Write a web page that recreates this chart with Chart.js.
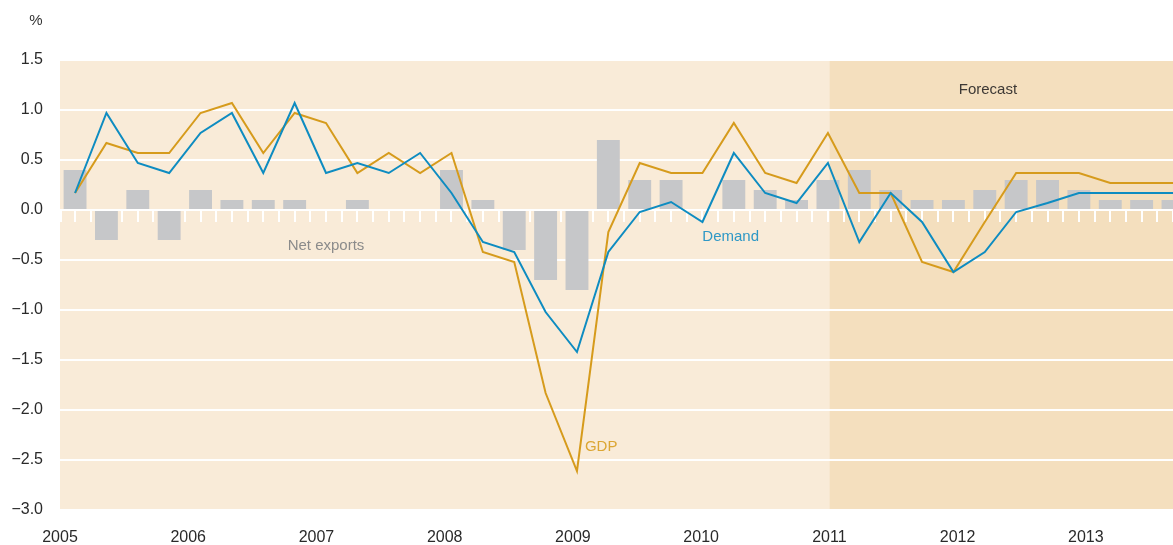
<!DOCTYPE html>
<html>
<head>
<meta charset="utf-8">
<script src="https://cdn.jsdelivr.net/npm/chart.js@4/dist/chart.umd.min.js"></script>
<style>
  html, body { margin: 0; padding: 0; background: #fff; }
</style>
</head>
<body>
<canvas id="canvas" width="1173" height="545"></canvas>
<script>
/* global Chart */

// Year labels on the time axis and start of the forecast period
const years = [2005, 2006, 2007, 2008, 2009, 2010, 2011, 2012, 2013];
const forecastStart = 2011;

// Quarters 2005Q1 .. 2013Q4
const quarters = [];
years.forEach((y) => {
  for (let q = 1; q <= 4; q++) quarters.push(y + "Q" + q);
});

// Quarterly contributions, per cent
const netExports = [
  0.4, -0.3, 0.2, -0.3, 0.2, 0.1, 0.1, 0.1, 0.0, 0.1, 0.0, 0.0,
  0.4, 0.1, -0.4, -0.7, -0.8, 0.7, 0.3, 0.3, 0.0, 0.3, 0.2, 0.1,
  0.3, 0.4, 0.2, 0.1, 0.1, 0.2, 0.3, 0.3, 0.2, 0.1, 0.1, 0.1
];
const demand = [
  0.17, 0.97, 0.47, 0.37, 0.77, 0.97, 0.37, 1.07, 0.37, 0.47, 0.37, 0.57,
  0.17, -0.32, -0.42, -1.02, -1.42, -0.42, -0.02, 0.08, -0.12, 0.57, 0.17, 0.07,
  0.47, -0.32, 0.17, -0.12, -0.62, -0.42, -0.02, 0.07, 0.17, 0.17, 0.17, 0.17
];
const gdp = [
  0.17, 0.67, 0.57, 0.57, 0.97, 1.07, 0.57, 0.97, 0.87, 0.37, 0.57, 0.37,
  0.57, -0.42, -0.52, -1.83, -2.61, -0.22, 0.47, 0.37, 0.37, 0.87, 0.37, 0.27,
  0.77, 0.17, 0.17, -0.52, -0.62, -0.12, 0.37, 0.37, 0.37, 0.27, 0.27, 0.27
];

// Text labels placed in data space (quarter index, value)
const notes = [
  { text: "Net exports", x: 8, y: -0.36, color: "#8b8b8b" },
  { text: "Demand", x: 20.9, y: -0.27, color: "#2f98c6" },
  { text: "GDP", x: 16.77, y: -2.37, color: "#dca633" },
  { text: "Forecast", x: 29.1, y: 1.2, color: "#3d3935" }
];

const FONT = "'Liberation Sans Narrow', 'Arial Narrow', 'Liberation Sans', sans-serif";
Chart.defaults.font.family = FONT;

function toPoints(values) {
  return values.map((v, i) => ({ x: i, y: v }));
}

// Shaded background, forecast band, little ticks under the zero line, text labels
const decorations = {
  id: "decorations",
  beforeDraw(chart) {
    const { ctx, chartArea: a, scales } = chart;
    const split = scales.year.getPixelForValue(forecastStart);
    ctx.save();
    ctx.fillStyle = "#f9ebd8";
    ctx.fillRect(a.left, a.top, split - a.left, a.bottom - a.top);
    ctx.fillStyle = "#f4dfbe";
    ctx.fillRect(split, a.top, a.right - split, a.bottom - a.top);
    ctx.restore();
  },
  beforeDatasetsDraw(chart) {
    const { ctx, chartArea: a, scales } = chart;
    const y0 = scales.y.getPixelForValue(0);
    ctx.save();
    ctx.strokeStyle = "#ffffff";
    ctx.lineWidth = 2;
    ctx.beginPath();
    for (let v = -0.5; v <= quarters.length; v += 0.5) {
      let x = Math.round(scales.x.getPixelForValue(v));
      if (x > a.right) continue;
      x = Math.max(x, a.left + 1);
      ctx.moveTo(x, y0);
      ctx.lineTo(x, y0 + 12);
    }
    ctx.stroke();
    ctx.restore();
  },
  afterDatasetsDraw(chart) {
    const { ctx, scales } = chart;
    ctx.save();
    ctx.font = "15px " + FONT;
    ctx.textAlign = "center";
    ctx.textBaseline = "middle";
    notes.forEach((n) => {
      ctx.fillStyle = n.color;
      ctx.fillText(n.text, scales.x.getPixelForValue(n.x), scales.y.getPixelForValue(n.y));
    });
    ctx.fillStyle = "#333333";
    ctx.fillText("%", 36, 21);
    ctx.restore();
  }
};

const config = {
  data: {
    datasets: [
      {
        type: "line",
        label: "Demand",
        data: toPoints(demand),
        borderColor: "#0e8cc1",
        borderWidth: 2,
        pointRadius: 0,
        tension: 0,
        order: 1
      },
      {
        type: "line",
        label: "GDP",
        data: toPoints(gdp),
        borderColor: "#d69b1c",
        borderWidth: 2,
        pointRadius: 0,
        tension: 0,
        order: 2
      },
      {
        type: "bar",
        label: "Net exports",
        data: toPoints(netExports),
        backgroundColor: "#c6c7c9",
        borderWidth: 0,
        barPercentage: 0.73,
        categoryPercentage: 1,
        order: 3
      }
    ]
  },
  options: {
    responsive: false,
    animation: false,
    layout: { padding: { top: 60, left: 0, right: 0, bottom: 0 } },
    plugins: {
      legend: { display: false },
      tooltip: { enabled: false }
    },
    scales: {
      x: {
        type: "linear",
        min: -0.48,
        max: quarters.length - 1,
        offset: false,
        grid: { offset: false },
        display: false
      },
      year: {
        type: "linear",
        position: "bottom",
        min: years[0],
        max: 2013.68,
        offset: false,
        afterBuildTicks: (scale) => {
          scale.ticks = years.map((v) => ({ value: v }));
        },
        grid: { display: false, drawTicks: false },
        border: { display: false },
        ticks: {
          padding: 18,
          autoSkip: false,
          maxRotation: 0,
          color: "#2a2a2a",
          font: { size: 16 },
          callback: (v) => String(v)
        },
        afterFit: (scale) => {
          scale.height = 35;
        }
      },
      y: {
        type: "linear",
        min: -3,
        max: 1.5,
        grid: { color: "#ffffff", lineWidth: 2, drawTicks: false },
        border: { display: false },
        ticks: {
          stepSize: 0.5,
          padding: 17,
          color: "#2a2a2a",
          font: { size: 16 },
          callback: (v) => (v < 0 ? "\u2212" : "") + Math.abs(v).toFixed(1)
        },
        afterFit: (scale) => {
          scale.width = 60;
        }
      }
    }
  },
  plugins: [decorations]
};

new Chart(document.getElementById("canvas").getContext("2d"), config);
</script>
</body>
</html>
